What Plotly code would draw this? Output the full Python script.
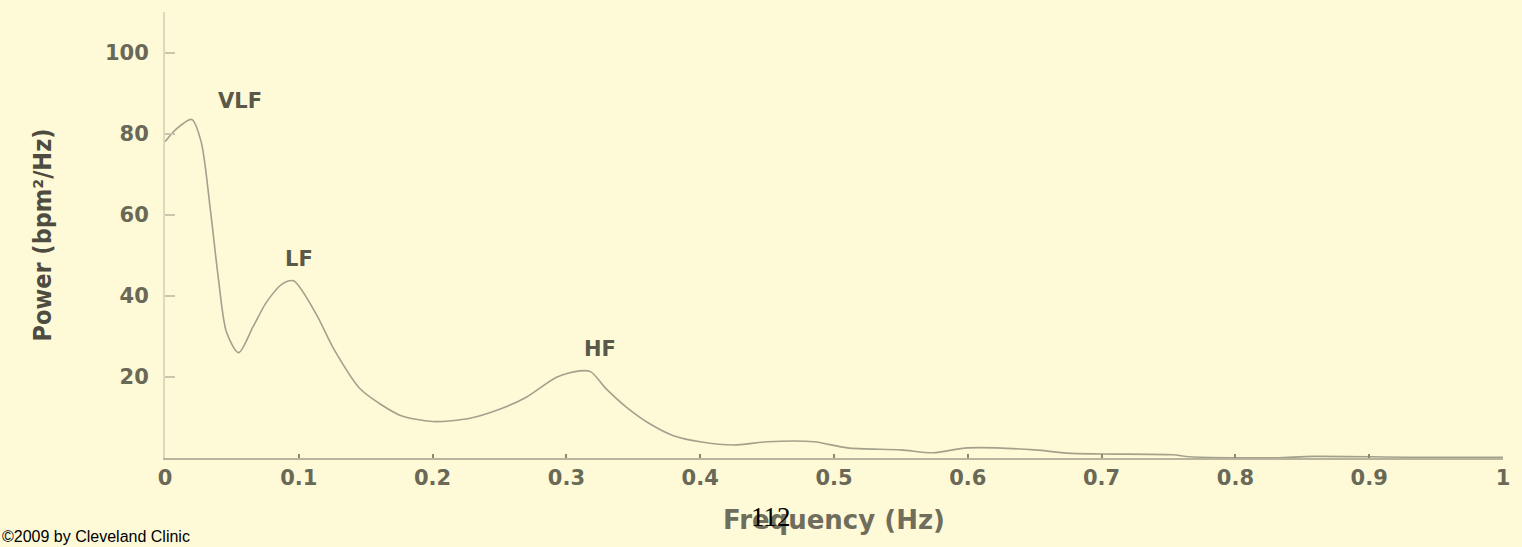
import plotly.graph_objects as go

# Data
freq_hz = [0, 0.008, 0.02, 0.027, 0.034, 0.04, 0.046, 0.055, 0.066, 0.076, 0.088, 0.096,
           0.113, 0.126, 0.146, 0.16, 0.176, 0.2, 0.228, 0.25, 0.27, 0.293, 0.31,
           0.318, 0.33, 0.345, 0.362, 0.38, 0.40, 0.425, 0.45, 0.485, 0.51, 0.55,
           0.574, 0.6, 0.65, 0.674, 0.7, 0.753, 0.766, 0.83, 0.858, 0.93, 1.0]
power = [78, 81, 83.5, 78, 61, 44, 31, 26, 32.5, 38.5, 43, 43.7,
         35.5, 27, 17, 13.5, 10.5, 9, 9.8, 12, 15, 20, 21.5,
         21.3, 17, 12.5, 8.5, 5.5, 4, 3.2, 4, 4, 2.5, 2,
         1.3, 2.5, 2, 1.2, 1, 0.8, 0.3, 0.05, 0.4, 0.2, 0.2]

band_labels = ["VLF", "LF", "HF"]
band_label_x = [0.056, 0.1, 0.325]
band_label_y = [88, 49, 27]

x_tickvals = [0, 0.1, 0.2, 0.3, 0.4, 0.5, 0.6, 0.7, 0.8, 0.9, 1]
x_ticktext = ["0", "0.1", "0.2", "0.3", "0.4", "0.5", "0.6", "0.7", "0.8", "0.9", "1"]
y_tickvals = [20, 40, 60, 80, 100]

BG = "#FEFAD8"
TXT = "#6a6856"
W, H = 1522, 547
ML, MR, MT, MB = 165, 17, 12, 89

fig = go.Figure()
fig.add_trace(go.Scatter(
    x=freq_hz, y=power, mode="lines",
    line=dict(color="#a3a18c", width=1.6, shape="spline", smoothing=0.8),
    hoverinfo="skip", showlegend=False,
))

for lab, lx, ly in zip(band_labels, band_label_x, band_label_y):
    fig.add_annotation(x=lx, y=ly, text=lab, showarrow=False, xref="x", yref="y",
                       font=dict(family="DejaVu Sans", size=21, color="#5a5848", weight="bold"))

pw, ph = W - ML - MR, H - MT - MB
fig.add_annotation(x=(772 - ML) / pw, y=(H - MB - 517) / ph, xref="paper", yref="paper",
                   text="112", showarrow=False, xanchor="center", yanchor="middle",
                   font=dict(family="Liberation Serif", size=27, color="#000000"))
fig.add_annotation(x=-ML / pw, y=(H - MB - H) / ph, xref="paper", yref="paper",
                   text="©2009 by Cleveland Clinic", showarrow=False,
                   xanchor="left", yanchor="bottom",
                   font=dict(family="Liberation Sans", size=16, color="#000000"))

fig.update_layout(
    width=W, height=H,
    paper_bgcolor=BG, plot_bgcolor=BG,
    margin=dict(l=ML, r=MR, t=MT, b=MB),
    xaxis=dict(
        range=[0, 1], tickvals=x_tickvals, ticktext=x_ticktext,
        showgrid=False, zeroline=False, showline=True, linecolor="#b8b59e", linewidth=2,
        ticks="inside", ticklen=4, tickcolor="#8a8870", tickwidth=2,
        tickfont=dict(family="DejaVu Sans", size=21, color=TXT, weight="bold"),
        title=dict(text="Frequency (Hz)", standoff=22,
                   font=dict(family="DejaVu Sans", size=26, color="#6f6d5c", weight="bold")),
    ),
    yaxis=dict(
        range=[0, 110], tickvals=y_tickvals,
        showgrid=False, zeroline=False, showline=True, linecolor="#dcd9c0", linewidth=2,
        ticks="inside", ticklen=10, tickcolor="#c9c6ae", tickwidth=1.5,
        tickfont=dict(family="DejaVu Sans", size=21, color=TXT, weight="bold"),
        ticklabelstandoff=10,
        title=dict(text="Power (bpm²/Hz)", standoff=46,
                   font=dict(family="DejaVu Sans Condensed, Liberation Sans Narrow, Roboto, Liberation Sans, sans-serif",
                             size=25, color="#4e4c40", weight="bold")),
    ),
)

fig.write_html("out.html", config={"displayModeBar": False},
               post_script="document.body.style.margin='0';document.body.style.overflow='hidden';")
